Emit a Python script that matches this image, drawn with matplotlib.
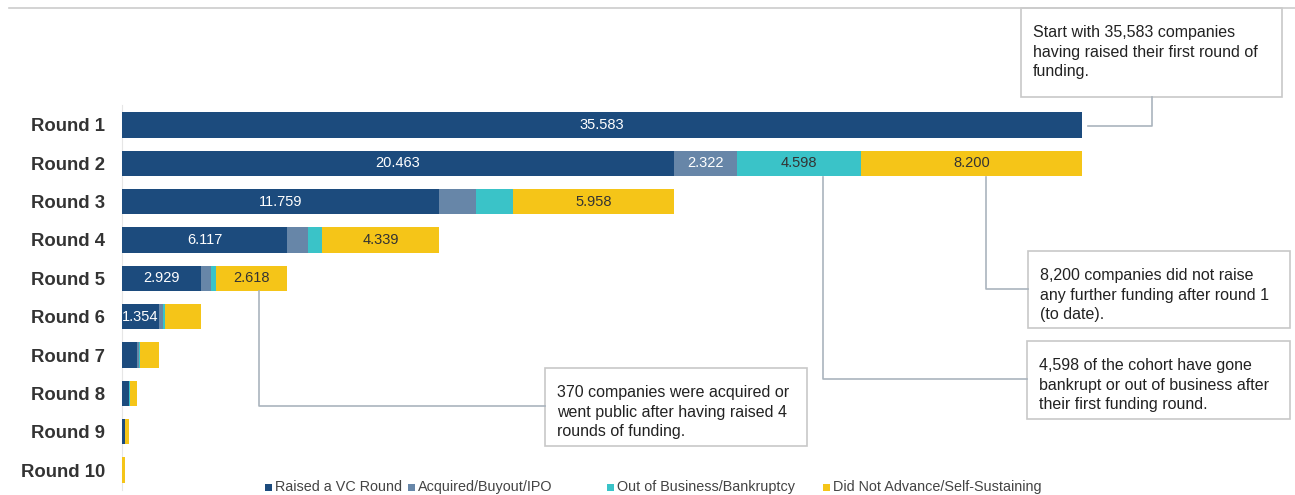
import matplotlib.pyplot as plt
from matplotlib.patches import Rectangle

plt.rcParams['font.family'] = ['Liberation Sans', 'DejaVu Sans']

rounds = ["Round 1", "Round 2", "Round 3", "Round 4", "Round 5",
          "Round 6", "Round 7", "Round 8", "Round 9", "Round 10"]
raised = [35583, 20463, 11759, 6117, 2929, 1354, 556, 250, 110, 4]
acquired = [0, 2322, 1380, 780, 370, 150, 70, 25, 8, 1]
bankrupt = [0, 4598, 1366, 523, 200, 80, 40, 15, 6, 1]
not_adv = [0, 8200, 5958, 4339, 2618, 1345, 688, 266, 126, 104]

series_names = ["Raised a VC Round", "Acquired/Buyout/IPO",
                "Out of Business/Bankruptcy", "Did Not Advance/Self-Sustaining"]
colors = ["#1c4b7d", "#6786a8", "#3ac3c8", "#f5c518"]
label_colors = ["white", "white", "#333333", "#333333"]
min_label = 1500

W, H = 1295, 495
fig = plt.figure(figsize=(W / 100, H / 100), dpi=100)
ax = fig.add_axes([122 / W, 5 / H, (W - 122) / W, 385 / H])

x_right = 35583 * (W - 122) / 960.0
ax.set_xlim(0, x_right)
ax.set_ylim(9.52, -0.52)

ypos = list(range(len(rounds)))
left = [0] * len(rounds)
data = [raised, acquired, bankrupt, not_adv]
for vals, c, name, lc in zip(data, colors, series_names, label_colors):
    ax.barh(ypos, vals, left=left, height=0.66, color=c, label=name, zorder=3)
    for i, v in enumerate(vals):
        if v >= min_label or (i == 5 and vals is raised):
            lab = f"{v:,}".replace(",", ".")
            cx = left[i] + v / 2
            ax.text(cx, i, lab, ha="center", va="center", fontsize=10.5,
                    color=lc, zorder=4)
    left = [l + v for l, v in zip(left, vals)]

ax.set_yticks(ypos)
ax.set_yticklabels(rounds, fontsize=13.3, fontweight="bold", color="#333333")
ax.tick_params(axis="y", length=0, pad=12)
ax.set_xticks([])
for s in ["top", "right", "bottom"]:
    ax.spines[s].set_visible(False)
ax.spines["left"].set_color("#e6e6e6")
ax.spines["left"].set_zorder(1)


# helpers in figure pixel coords (top-left origin)
def fx(px):
    return px / W


def fy(py):
    return 1 - py / H


def box(x0, y0, x1, y1, text):
    fig.add_artist(Rectangle((fx(x0), fy(y1)), fx(x1) - fx(x0), fy(y0) - fy(y1),
                             transform=fig.transFigure, facecolor="white",
                             edgecolor="#c8c8c8", linewidth=1.2))
    fig.text(fx(x0 + 12), fy(y0 + 17), text, fontsize=11.5, color="#222222",
             va="top", ha="left", linespacing=1.38)


def conn(pts):
    xs = [fx(p[0]) for p in pts]
    ys = [fy(p[1]) for p in pts]
    fig.add_artist(plt.Line2D(xs, ys, transform=fig.transFigure,
                              color="#aab4bd", linewidth=1.2))


# top rule
fig.add_artist(plt.Line2D([fx(9), 1], [fy(8), fy(8)], transform=fig.transFigure,
                          color="#cccccc", linewidth=1.2))

conn([(1088, 126), (1152, 126), (1152, 97)])
box(1021, 8, 1282, 97, "Start with 35,583 companies\nhaving raised their first round of\nfunding.")

conn([(986, 177), (986, 289), (1028, 289)])
box(1028, 251, 1290, 328, "8,200 companies did not raise\nany further funding after round 1\n(to date).")

conn([(823, 177), (823, 379), (1027, 379)])
box(1027, 341, 1290, 419, "4,598 of the cohort have gone\nbankrupt or out of business after\ntheir first funding round.")

conn([(259, 291), (259, 406), (545, 406)])
box(545, 368, 807, 446, "370 companies were acquired or\nwent public after having raised 4\nrounds of funding.")

# legend
leg_x = [265, 408, 607, 823]
for lx, c, name in zip(leg_x, colors, series_names):
    fig.add_artist(Rectangle((fx(lx), fy(491)), 7 / W, 7 / H,
                             transform=fig.transFigure, facecolor=c,
                             edgecolor="none"))
    fig.text(fx(lx + 10), fy(487), name, fontsize=10.4, color="#444444",
             va="center", ha="left")

fig.savefig("out.png", dpi=100)
